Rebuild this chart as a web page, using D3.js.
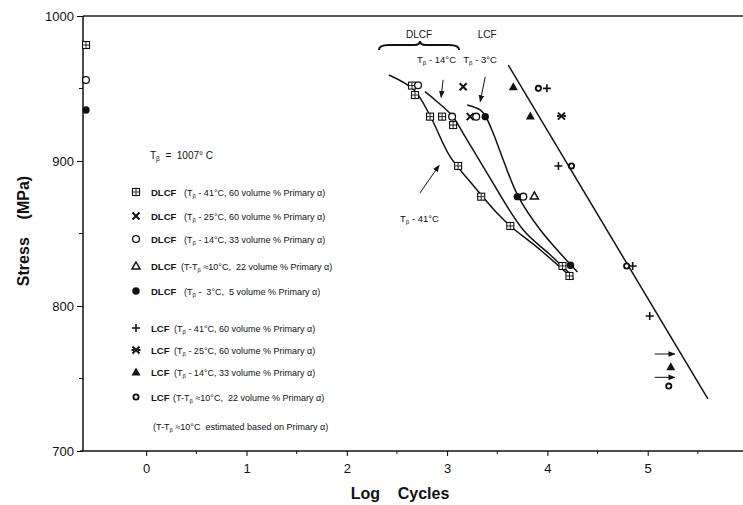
<!DOCTYPE html>
<html><head><meta charset="utf-8">
<script src="https://cdn.jsdelivr.net/npm/d3@7"></script>
<style>body{margin:0;background:#fff}svg{display:block}text{font-family:"Liberation Sans",Arial,Helvetica,sans-serif;fill:#111}</style>
</head><body><svg id="c" width="743" height="505"></svg>
<script>
// ---------- data (log cycles, stress MPa) ----------
const xTicks = [0,1,2,3,4,5];
const xMinor = [0.5,1.5,2.5,3.5,4.5,5.5];
const yTicks = [700,800,900,1000];
const yMinor = [750,850,950];

const dlcfSquareX = [-0.6, 2.65, 2.68, 2.83, 2.95, 3.06, 3.11, 3.34, 3.63, 4.15, 4.22];
const dlcfSquareY = [980, 952, 945.5, 930.6, 930.6, 924.8, 896.6, 875.4, 855.2, 827.6, 820.7];
const dlcfCrossX = [3.16, 3.23];
const dlcfCrossY = [951.2, 930.6];
const dlcfCircleX = [-0.6, 2.71, 3.05, 3.29, 3.76];
const dlcfCircleY = [955.9, 952.2, 930.6, 930.6, 875.4];
const dlcfTriX = [3.87];
const dlcfTriY = [875.9];
const dlcfDotX = [-0.6, 3.38, 3.70, 4.23];
const dlcfDotY = [935.2, 930.6, 875.4, 828.1];

const lcfPlusX = [3.995, 4.11, 4.85, 5.02];
const lcfPlusY = [950.1, 896.6, 827.6, 793.1];
const lcfBowX = [4.14];
const lcfBowY = [931.0];
const lcfTriX = [3.66, 3.83, 5.23];
const lcfTriY = [951.2, 931.0, 758.1];
const lcfRingX = [3.91, 4.24, 4.79, 5.21];
const lcfRingY = [950.1, 896.6, 827.6, 744.8];

// runout arrows
const runoutY = [766.9, 750.8];
const runoutFrom = 5.07, runoutTo = 5.27;

// fitted curves
const curve41X = [2.42, 2.67, 2.83, 3.03, 3.23, 3.50, 3.63, 3.93, 4.26];
const curve41Y = [959.3, 949.0, 931.2, 903.0, 885.7, 863.9, 855.2, 838.6, 818.6];
const curve14X = [2.78, 2.88, 3.05, 3.16, 3.40, 3.76, 4.03, 4.25];
const curve14Y = [947.8, 942.1, 931.2, 919.1, 891.5, 852.4, 835.2, 820.7];
const curve3X = [3.20, 3.33, 3.38, 3.46, 3.56, 3.71, 3.93, 4.30];
const curve3Y = [938.6, 935.2, 931.2, 919.1, 900.7, 875.4, 852.4, 823.4];
const lcfLineX = [3.61, 5.60];
const lcfLineY = [966.2, 735.9];

// legend
const legendSyms = ["sq","x","circle","tri","dot","plus","bow","ftri","ring"];
const legendNames = ["DLCF","DLCF","DLCF","DLCF","DLCF","LCF","LCF","LCF","LCF"];
const legendPre = ["(T","(T","(T","(T-T","(T","(T","(T","(T","(T-T"];
const legendPost = [" - 41°C, 60 volume % Primary α)"," - 25°C, 60 volume % Primary α)"," - 14°C, 33 volume % Primary α)"," ≈10°C,  22 volume % Primary α)"," -  3°C,  5 volume % Primary α)",
  " - 41°C, 60 volume % Primary α)"," - 25°C, 60 volume % Primary α)"," - 14°C, 33 volume % Primary α)"," ≈10°C,  22 volume % Primary α)"];

// ---------- drawing ----------
const svg = d3.select("#c");
const x = d3.scaleLinear().domain([-0.63, 5.95]).range([83, 743]);
const y = d3.scaleLinear().domain([700, 1000]).range([451, 16]);

svg.append("defs").append("marker").attr("id","ah").attr("viewBox","0 0 10 10").attr("refX",9).attr("refY",5)
  .attr("markerWidth",7).attr("markerHeight",7).attr("orient","auto")
  .append("path").attr("d","M0,1 L10,5 L0,9 z").attr("fill","#111");

// frame
svg.append("line").attr("x1",83).attr("x2",743).attr("y1",y(1000)).attr("y2",y(1000)).attr("stroke","#222").attr("stroke-width",1.3);
const xAxis = d3.axisBottom(x).tickValues(xTicks).tickSize(5).tickFormat(d3.format("d"));
const gx = svg.append("g").attr("transform",`translate(0,${y(700)})`).call(xAxis);
gx.select(".domain").attr("d","M80,0H743").attr("stroke","#111").attr("stroke-width",1.5);
gx.selectAll("text").attr("font-size",13).attr("dy","1.1em");
gx.selectAll("line.minor").data(xMinor).enter().append("line").attr("class","minor").attr("x1",d=>x(d)).attr("x2",d=>x(d)).attr("y1",0).attr("y2",3).attr("stroke","#111");

const yAxis = d3.axisLeft(y).tickValues(yTicks).tickSize(6).tickPadding(3).tickFormat(d3.format("d"));
const gy = svg.append("g").attr("transform",`translate(${x(-0.63)},0)`).call(yAxis);
gy.select(".domain").attr("d",`M0,${y(1000)}V${y(700)}`).attr("stroke","#111").attr("stroke-width",1.5);
gy.selectAll("text").attr("font-size",13);
gy.selectAll("line.minor").data(yMinor).enter().append("line").attr("class","minor").attr("x1",-4).attr("x2",0).attr("y1",d=>y(d)).attr("y2",d=>y(d)).attr("stroke","#111");

// axis titles
svg.append("text").attr("x",400).attr("y",499).attr("text-anchor","middle").attr("font-size",16).attr("font-weight","bold").attr("xml:space","preserve").text("Log    Cycles");
svg.append("text").attr("transform","translate(29,231) rotate(-90)").attr("text-anchor","middle").attr("font-size",16).attr("font-weight","bold").attr("xml:space","preserve").text("Stress    (MPa)");

// curves
const line = d3.line().x(d=>x(d[0])).y(d=>y(d[1])).curve(d3.curveCatmullRom.alpha(0.5));
[[curve41X,curve41Y],[curve14X,curve14Y],[curve3X,curve3Y],[lcfLineX,lcfLineY]].forEach(([xs,ys])=>{
  svg.append("path").attr("d",line(xs.map((v,i)=>[v,ys[i]]))).attr("fill","none").attr("stroke","#111").attr("stroke-width",1.5);
});

// symbols
function sym(g, type, cx, cy){
  const k = "#111";
  if(type==="sq"){
    g.append("rect").attr("x",cx-3.5).attr("y",cy-3.5).attr("width",7).attr("height",7).attr("fill","#fff").attr("stroke",k).attr("stroke-width",1.1);
    g.append("path").attr("d",`M${cx-3.5},${cy}H${cx+3.5}M${cx},${cy-3.5}V${cy+3.5}`).attr("stroke",k).attr("stroke-width",0.9);
  } else if(type==="x"){
    g.append("path").attr("d",`M${cx-3.5},${cy-3.5}L${cx+3.5},${cy+3.5}M${cx-3.5},${cy+3.5}L${cx+3.5},${cy-3.5}`).attr("stroke",k).attr("stroke-width",2);
  } else if(type==="circle"){
    g.append("circle").attr("cx",cx).attr("cy",cy).attr("r",3.4).attr("fill","#fff").attr("stroke",k).attr("stroke-width",1.3);
  } else if(type==="tri"){
    g.append("path").attr("d",`M${cx},${cy-4}L${cx+4},${cy+3}L${cx-4},${cy+3}Z`).attr("fill","#fff").attr("stroke",k).attr("stroke-width",1.5);
  } else if(type==="dot"){
    g.append("circle").attr("cx",cx).attr("cy",cy).attr("r",3.7).attr("fill",k);
  } else if(type==="plus"){
    g.append("path").attr("d",`M${cx-4},${cy}H${cx+4}M${cx},${cy-4}V${cy+4}`).attr("stroke",k).attr("stroke-width",1.6);
  } else if(type==="bow"){
    g.append("path").attr("d",`M${cx-3.5},${cy-3.5}L${cx+3.5},${cy+3.5}M${cx-3.5},${cy+3.5}L${cx+3.5},${cy-3.5}M${cx-4.5},${cy}H${cx-2}M${cx+2},${cy}H${cx+4.5}`).attr("stroke",k).attr("stroke-width",1.9);
  } else if(type==="ftri"){
    g.append("path").attr("d",`M${cx},${cy-4.5}L${cx+4.5},${cy+3.5}L${cx-4.5},${cy+3.5}Z`).attr("fill",k);
  } else if(type==="ring"){
    g.append("circle").attr("cx",cx).attr("cy",cy).attr("r",2.6).attr("fill","#fff").attr("stroke",k).attr("stroke-width",1.9);
  }
}
const gp = svg.append("g");
[["sq",dlcfSquareX,dlcfSquareY],["x",dlcfCrossX,dlcfCrossY],["circle",dlcfCircleX,dlcfCircleY],["tri",dlcfTriX,dlcfTriY],["dot",dlcfDotX,dlcfDotY],
 ["plus",lcfPlusX,lcfPlusY],["bow",lcfBowX,lcfBowY],["ftri",lcfTriX,lcfTriY],["ring",lcfRingX,lcfRingY]].forEach(([t,xs,ys])=>{
  xs.forEach((v,i)=>sym(gp,t,x(v),y(ys[i])));
});

// runout arrows
runoutY.forEach(v=>{
  svg.append("line").attr("x1",x(runoutFrom)).attr("x2",x(runoutTo)).attr("y1",y(v)).attr("y2",y(v)).attr("stroke","#111").attr("stroke-width",1).attr("marker-end","url(#ah)");
});

// annotations
function tb(g, px, py, pre, post, fs){
  const t = g.append("text").attr("x",px).attr("y",py).attr("font-size",fs).attr("xml:space","preserve");
  t.append("tspan").text(pre);
  t.append("tspan").attr("dy",2).attr("font-size",fs*0.65).text("β");
  t.append("tspan").attr("dy",-2).text(post);
  return t;
}
tb(svg, x(2.7), y(967.5), "T", " - 14°C", 9.5);
tb(svg, x(3.16), y(967.5), "T", " - 3°C", 9.5);
tb(svg, x(2.53), y(858), "T", " - 41°C", 9.5);
svg.append("text").attr("x",x(2.72)).attr("y",y(985)).attr("text-anchor","middle").attr("font-size",10).text("DLCF");
svg.append("text").attr("x",x(3.40)).attr("y",y(985)).attr("text-anchor","middle").attr("font-size",10).text("LCF");
// brace
const bx0=x(2.32), bx1=x(3.12), bxc=x(2.73), by=y(980);
svg.append("path").attr("d",`M${bx0},${by+5}Q${bx0},${by} ${bx0+10},${by}L${bxc-6},${by}Q${bxc},${by} ${bxc},${by-4}Q${bxc},${by} ${bxc+6},${by}L${bx1-10},${by}Q${bx1},${by} ${bx1},${by+5}`)
  .attr("fill","none").attr("stroke","#111").attr("stroke-width",2);
// pointer arrows
[[2.96,956,2.94,944],[3.38,958,3.33,941],[2.73,878,2.92,897]].forEach(a=>{
  svg.append("line").attr("x1",x(a[0])).attr("y1",y(a[1])).attr("x2",x(a[2])).attr("y2",y(a[3])).attr("stroke","#111").attr("stroke-width",1).attr("marker-end","url(#ah)");
});

// legend
const lg = svg.append("g");
tb(lg, 150, 159, "T", "  =  1007° C", 10);
const rowY = [192,216,239,266,291,328,350,372,397];
legendSyms.forEach((s,i)=>{
  sym(lg, s, 136, rowY[i]);
  lg.append("text").attr("x",151).attr("y",rowY[i]+4).attr("font-size",9.5).attr("font-weight","bold").text(legendNames[i]);
  const px = i<5 ? (i===3?181:184) : (i===8?173:174);
  tb(lg, px, rowY[i]+4, legendPre[i], legendPost[i], 9);
});
tb(lg, 153, 430, "(T-T", " ≈10°C  estimated based on Primary α)", 9);
</script></body></html>
